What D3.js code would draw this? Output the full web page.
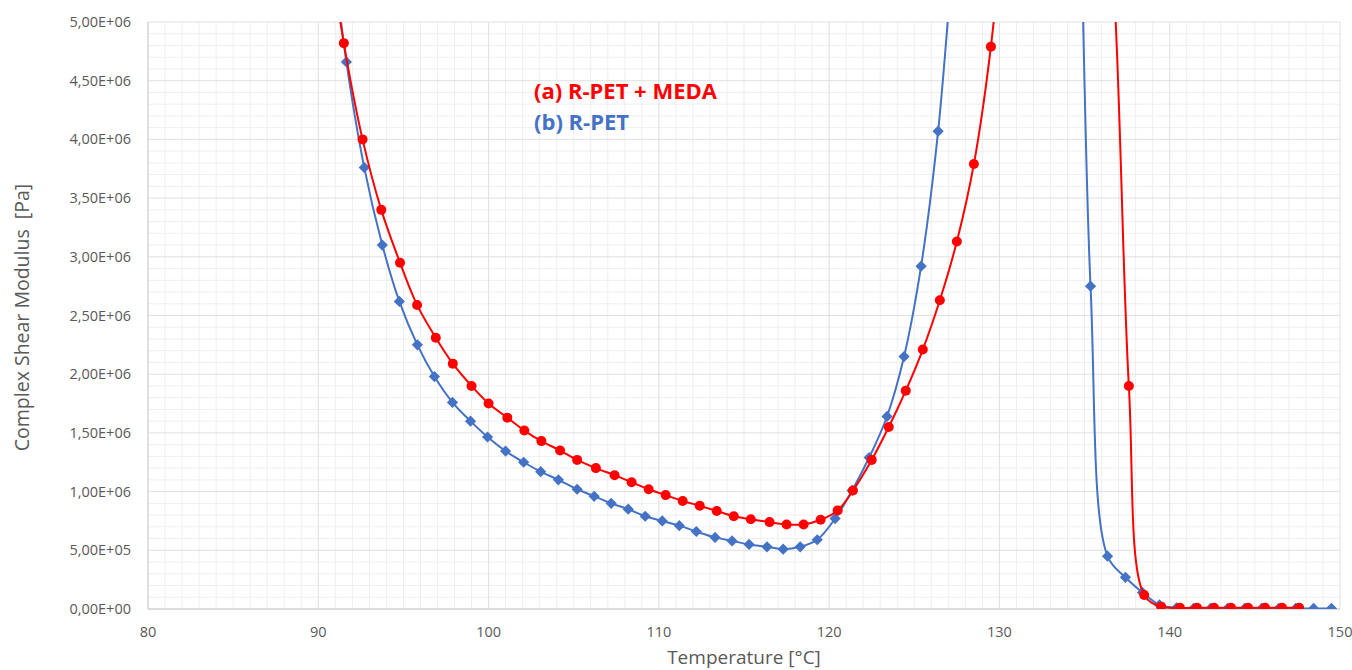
<!DOCTYPE html>
<html>
<head>
<meta charset="utf-8">
<script src="https://cdn.jsdelivr.net/npm/d3@7"></script>
<style>
  body { margin: 0; background: #fff; }
  svg { display: block; font-family: "Open Sans", "Liberation Sans", sans-serif; }
</style>
</head>
<body>
<svg id="chart"></svg>
<script>
// (a) R-PET + MEDA  -- temperature [°C] and complex shear modulus [Pa]
const tempA = [90.5, 91.5, 92.6, 93.7, 94.8, 95.8, 96.9, 97.9, 99.0, 100.0, 101.1, 102.1, 103.1, 104.2, 105.2, 106.3, 107.4, 108.4, 109.4, 110.4, 111.4, 112.4, 113.4, 114.4, 115.4, 116.5, 117.5, 118.5, 119.5, 120.5, 121.4, 122.5, 123.5, 124.5, 125.5, 126.5, 127.5, 128.5, 129.5,
  130.5, 131.5, 132.6, 133.6, 134.6, 135.6, 136.6,
  137.6, 138.5, 139.5, 140.6, 141.6, 142.6, 143.6, 144.6, 145.6, 146.6, 147.6];
const modulusA = [5.8e6, 4.82e6, 4.00e6, 3.40e6, 2.95e6, 2.59e6, 2.31e6, 2.09e6, 1.90e6, 1.75e6, 1.63e6, 1.52e6, 1.43e6, 1.35e6, 1.27e6, 1.20e6, 1.14e6, 1.08e6, 1.02e6, 0.97e6, 0.92e6, 0.88e6, 0.835e6, 0.79e6, 0.765e6, 0.74e6, 0.72e6, 0.72e6, 0.76e6, 0.84e6, 1.01e6, 1.27e6, 1.55e6, 1.86e6, 2.21e6, 2.63e6, 3.13e6, 3.79e6, 4.79e6,
  6.3e6, 7.6e6, 8.4e6, 8.6e6, 8.0e6, 6.9e6, 5.6e6,
  1.90e6, 0.12e6, 0.02e6, 0.01e6, 0.01e6, 0.01e6, 0.01e6, 0.01e6, 0.01e6, 0.01e6, 0.01e6];

// (b) R-PET
const tempB = [90.6, 91.65, 92.7, 93.76, 94.76, 95.82, 96.82, 97.88, 98.94, 99.94, 101.0, 102.06, 103.06, 104.1, 105.2, 106.2, 107.2, 108.2, 109.2, 110.2, 111.2, 112.2, 113.3, 114.3, 115.3, 116.35, 117.3, 118.3, 119.3, 120.35, 121.35, 122.35, 123.4, 124.4, 125.4, 126.4,
  127.4, 128.4, 129.4, 130.4, 131.4, 132.4, 133.4, 134.4,
  135.35, 136.35, 137.4, 138.4, 139.4, 140.4, 141.4, 142.4, 143.4, 144.4, 145.4, 146.4, 147.4, 148.45, 149.5];
const modulusB = [5.9e6, 4.66e6, 3.76e6, 3.10e6, 2.62e6, 2.25e6, 1.98e6, 1.76e6, 1.60e6, 1.465e6, 1.345e6, 1.25e6, 1.17e6, 1.10e6, 1.02e6, 0.96e6, 0.90e6, 0.85e6, 0.79e6, 0.75e6, 0.71e6, 0.66e6, 0.61e6, 0.58e6, 0.55e6, 0.53e6, 0.51e6, 0.53e6, 0.59e6, 0.77e6, 1.01e6, 1.29e6, 1.64e6, 2.15e6, 2.92e6, 4.07e6,
  5.8e6, 7.5e6, 8.8e6, 9.5e6, 9.8e6, 9.7e6, 9.0e6, 7.4e6,
  2.75e6, 0.45e6, 0.27e6, 0.14e6, 0.035e6, 0.01e6, 0.005e6, 0.005e6, 0.005e6, 0.005e6, 0.005e6, 0.005e6, 0.005e6, 0.005e6, 0.005e6];

const xTicks = [80, 90, 100, 110, 120, 130, 140, 150];
const yTicks = [0, 0.5e6, 1e6, 1.5e6, 2e6, 2.5e6, 3e6, 3.5e6, 4e6, 4.5e6, 5e6];

const width = 1352, height = 670;
const margin = { top: 22, right: 12, bottom: 61, left: 148 };
const innerW = width - margin.left - margin.right;
const innerH = height - margin.top - margin.bottom;

const svg = d3.select('#chart').attr('width', width).attr('height', height);

const x = d3.scaleLinear().domain([80, 150]).range([margin.left, margin.left + innerW]);
const y = d3.scaleLinear().domain([0, 5e6]).range([margin.top + innerH, margin.top]);

// minor grid
svg.append('g').selectAll('line')
    .data(d3.range(81, 150, 1).filter(v => v % 10 !== 0))
    .enter().append('line')
    .attr('x1', d => x(d)).attr('x2', d => x(d))
    .attr('y1', y(0)).attr('y2', y(5e6))
    .attr('stroke', '#efefef').attr('stroke-width', 1);
svg.append('g').selectAll('line')
    .data(d3.range(1e5, 5e6, 1e5).filter(v => Math.round(v / 1e5) % 5 !== 0))
    .enter().append('line')
    .attr('x1', x(80)).attr('x2', x(150))
    .attr('y1', d => y(d)).attr('y2', d => y(d))
    .attr('stroke', '#efefef').attr('stroke-width', 1);

// major grid
svg.append('g').selectAll('line')
    .data(xTicks.slice(1))
    .enter().append('line')
    .attr('x1', d => x(d)).attr('x2', d => x(d))
    .attr('y1', y(0)).attr('y2', y(5e6))
    .attr('stroke', '#e0e0e0').attr('stroke-width', 1);
svg.append('g').selectAll('line')
    .data(yTicks.slice(1))
    .enter().append('line')
    .attr('x1', x(80)).attr('x2', x(150))
    .attr('y1', d => y(d)).attr('y2', d => y(d))
    .attr('stroke', '#e0e0e0').attr('stroke-width', 1);

// axis lines
svg.append('line')
    .attr('x1', x(80)).attr('x2', x(150)).attr('y1', y(0)).attr('y2', y(0))
    .attr('stroke', '#cfcfcf').attr('stroke-width', 1.3);
svg.append('line')
    .attr('x1', x(80)).attr('x2', x(80)).attr('y1', y(0)).attr('y2', y(5e6))
    .attr('stroke', '#cfcfcf').attr('stroke-width', 1.3);

// tick labels
const fmtSci = d => {
    if (d === 0) return '0,00E+00';
    const e = Math.floor(Math.log10(d));
    const m = d / Math.pow(10, e);
    return m.toFixed(2).replace('.', ',') + 'E+' + String(e).padStart(2, '0');
};
svg.append('g').selectAll('text')
    .data(yTicks)
    .enter().append('text')
    .attr('x', 131).attr('y', d => y(d)).attr('dy', '0.35em')
    .attr('text-anchor', 'end')
    .attr('fill', '#595959').style('font-size', '14.5px')
    .text(fmtSci);
svg.append('g').selectAll('text')
    .data(xTicks)
    .enter().append('text')
    .attr('x', d => x(d)).attr('y', 637)
    .attr('text-anchor', 'middle')
    .attr('fill', '#595959').style('font-size', '14.5px')
    .text(d => d);

// axis titles
svg.append('text')
    .attr('x', x(115)).attr('y', 664)
    .attr('text-anchor', 'middle')
    .attr('fill', '#595959').style('font-size', '19px')
    .text('Temperature [°C]');
svg.append('text')
    .attr('transform', 'translate(29,' + (y(2.5e6) + 2) + ') rotate(-90)')
    .attr('text-anchor', 'middle')
    .attr('fill', '#595959').style('font-size', '19.5px')
    .style('white-space', 'pre')
    .text('Complex Shear Modulus  [Pa]');

// clip to plot area
svg.append('clipPath').attr('id', 'plot')
    .append('rect')
    .attr('x', x(80)).attr('y', y(5e6))
    .attr('width', x(150) - x(80)).attr('height', y(0) - y(5e6));

const plot = svg.append('g').attr('clip-path', 'url(#plot)');
const line = d3.line().x(d => x(d[0])).y(d => y(d[1])).curve(d3.curveCatmullRom.alpha(0.5));

const seriesB = d3.zip(tempB, modulusB);
const seriesA = d3.zip(tempA, modulusA);

plot.append('path').datum(seriesB)
    .attr('d', line).attr('fill', 'none')
    .attr('stroke', '#4472C4').attr('stroke-width', 2);
plot.append('g').selectAll('path')
    .data(seriesB)
    .enter().append('path')
    .attr('d', d3.symbol(d3.symbolDiamond2, 80))
    .attr('transform', d => 'translate(' + x(d[0]) + ',' + y(d[1]) + ')')
    .attr('fill', '#4472C4');

plot.append('path').datum(seriesA)
    .attr('d', line).attr('fill', 'none')
    .attr('stroke', '#FF0000').attr('stroke-width', 2);
plot.append('g').selectAll('circle')
    .data(seriesA)
    .enter().append('circle')
    .attr('cx', d => x(d[0])).attr('cy', d => y(d[1]))
    .attr('r', 5)
    .attr('fill', '#FF0000');

// labels
svg.append('text')
    .attr('x', 534).attr('y', 99)
    .attr('fill', '#FF0000').style('font-size', '22px').style('font-weight', 'bold')
    .text('(a) R-PET + MEDA');
svg.append('text')
    .attr('x', 534).attr('y', 130)
    .attr('fill', '#4472C4').style('font-size', '22px').style('font-weight', 'bold')
    .text('(b) R-PET');
</script>
</body>
</html>
